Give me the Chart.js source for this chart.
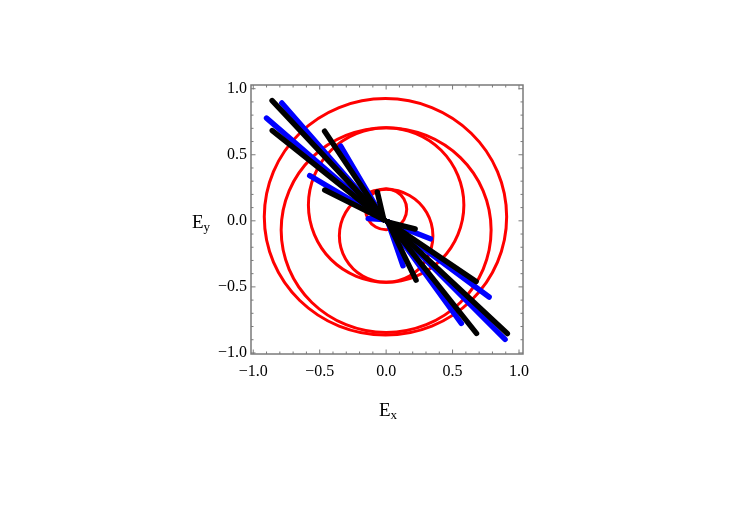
<!DOCTYPE html>
<html>
<head>
<meta charset="utf-8">
<script src="https://cdn.jsdelivr.net/npm/chart.js@4.4.0/dist/chart.umd.min.js"></script>
<style>
  html, body { margin: 0; padding: 0; background: #fff; }
  #wrap { position: relative; width: 747px; height: 528px; }
  #chart { position: absolute; left: 0; top: 0; }
  .axis-title {
    position: absolute;
    font-family: 'Liberation Serif', 'Times New Roman', serif;
    font-size: 19px;
    line-height: 1;
    color: #000;
    white-space: nowrap;
  }
  .axis-title sub { font-size: 13px; vertical-align: baseline; position: relative; top: 3px; }
</style>
</head>
<body>
<div id="wrap">
  <canvas id="chart" width="747" height="528"></canvas>
  <div class="axis-title" style="left:379px; top:400px;">E<sub>x</sub></div>
  <div class="axis-title" style="left:192px; top:212px;">E<sub>y</sub></div>
</div>
<script>
// axis ranges and ticks
const xRange = [-1.017, 1.03];
const yRange = [-1.008, 1.028];
const majorTicks = [-1, -0.5, 0, 0.5, 1];
const minorTicks = [-0.9, -0.8, -0.7, -0.6, -0.4, -0.3, -0.2, -0.1, 0.1, 0.2, 0.3, 0.4, 0.6, 0.7, 0.8, 0.9];

// red loops, going round once (closed when drawn)
const red1 = [[0.907, 0.030], [0.838, 0.373], [0.640, 0.663], [0.344, 0.857], [-0.005, 0.925], [-0.354, 0.857],
  [-0.650, 0.663], [-0.848, 0.373], [-0.917, 0.030], [-0.848, -0.313], [-0.650, -0.603], [-0.354, -0.797],
  [-0.005, -0.865], [0.344, -0.797], [0.640, -0.603], [0.838, -0.313]];
const red2 = [[0.790, -0.070], [0.730, 0.227], [0.559, 0.478], [0.302, 0.646], [0, 0.705], [-0.302, 0.646],
  [-0.559, 0.478], [-0.730, 0.227], [-0.790, -0.070], [-0.730, -0.367], [-0.559, -0.618], [-0.302, -0.786],
  [0, -0.845], [0.302, -0.786], [0.559, -0.618], [0.730, -0.367]];
const red3 = [[0.585, 0.120], [0.540, 0.344], [0.414, 0.534], [0.224, 0.660], [0, 0.705], [-0.224, 0.660],
  [-0.414, 0.534], [-0.540, 0.344], [-0.585, 0.120], [-0.540, -0.104], [-0.414, -0.294], [-0.224, -0.420],
  [0, -0.465], [0.224, -0.420], [0.414, -0.294], [0.540, -0.104]];
const red4 = [[0.352, -0.113], [0.305, 0.063], [0.176, 0.192], [0, 0.239], [-0.176, 0.192], [-0.305, 0.063],
  [-0.352, -0.113], [-0.305, -0.289], [-0.176, -0.418], [0, -0.465], [0.176, -0.418], [0.305, -0.289]];
const red5 = [[0.155, 0.087], [0.134, 0.165], [0.078, 0.221], [0, 0.242], [-0.078, 0.221], [-0.134, 0.165],
  [-0.155, 0.087], [-0.134, 0.009], [-0.078, -0.047], [0, -0.068], [0.078, -0.047], [0.134, 0.009]];

// thin lobes: each runs from the centre of its arm out to a tip
const upperBase = [-0.018, 0.010];
const lowerBase = [0.014, -0.010];
const blueTips = [[-0.785, 0.892], [-0.900, 0.777], [-0.342, 0.566], [-0.575, 0.342], [-0.135, 0.018],
  [0.895, -0.897], [0.775, -0.577], [0.566, -0.776], [0.333, -0.136], [0.127, -0.340]];
const blackTips = [[-0.858, 0.910], [-0.857, 0.683], [-0.463, 0.678], [-0.462, 0.233], [-0.066, 0.218],
  [0.912, -0.853], [0.677, -0.459], [0.680, -0.852], [0.225, -0.449], [0.218, -0.062]];

const serif = "'Liberation Serif', 'Times New Roman', serif";
const fmt = (v) => (v < 0 ? '\u2212' : '') + Math.abs(v).toFixed(1);

const lobe = (tip, color, order) => ({
  data: [tip[0] < 0 ? upperBase : lowerBase, tip],
  borderColor: color,
  borderWidth: 5.5,
  borderCapStyle: 'round',
  showLine: true,
  pointRadius: 0,
  order,
});

// a closed smooth loop: the spline is fed one point before and two after,
// and the two helper segments are left transparent
const loop = (pts) => {
  const n = pts.length;
  return {
    data: [pts[n - 1], ...pts, pts[0], pts[1]],
    borderColor: '#ff0000',
    borderWidth: 3,
    tension: 0.35,
    showLine: true,
    pointRadius: 0,
    order: 3,
    segment: {
      borderColor: (c) => (c.p0DataIndex === 0 || c.p0DataIndex === n + 1 ? 'rgba(0,0,0,0)' : '#ff0000'),
    },
  };
};

const datasets = [
  ...blackTips.map((t) => lobe(t, '#000000', 1)),
  ...blueTips.map((t) => lobe(t, '#0000ff', 2)),
  ...[red1, red2, red3, red4, red5].map(loop),
];

const framePlugin = {
  id: 'frame',
  afterDatasetsDraw(chart) {
    const { ctx, chartArea: a, scales: { x, y } } = chart;
    ctx.save();
    ctx.strokeStyle = '#7a7a7a';
    ctx.lineWidth = 1.5;
    ctx.strokeRect(a.left, a.top, a.right - a.left, a.bottom - a.top);
    ctx.lineWidth = 1;
    ctx.beginPath();
    const mark = (v, len) => {
      const px = x.getPixelForValue(v);
      ctx.moveTo(px, a.bottom); ctx.lineTo(px, a.bottom - len);
      ctx.moveTo(px, a.top); ctx.lineTo(px, a.top + len);
      const py = y.getPixelForValue(v);
      ctx.moveTo(a.left, py); ctx.lineTo(a.left + len, py);
      ctx.moveTo(a.right, py); ctx.lineTo(a.right - len, py);
    };
    majorTicks.forEach((v) => mark(v, 4.5));
    minorTicks.forEach((v) => mark(v, 2.5));
    ctx.stroke();
    ctx.restore();
  },
};

const axis = (range, fit, pad) => ({
  type: 'linear',
  min: range[0],
  max: range[1],
  grid: { display: false, drawTicks: false },
  border: { display: false },
  afterBuildTicks: (s) => { s.ticks = majorTicks.map((v) => ({ value: v })); },
  afterFit: fit,
  ticks: {
    callback: fmt,
    font: { family: serif, size: 16 },
    color: '#000',
    padding: pad,
    autoSkip: false,
    maxRotation: 0,
  },
});

new Chart(document.getElementById('chart'), {
  type: 'scatter',
  data: { datasets },
  options: {
    responsive: false,
    animation: false,
    devicePixelRatio: 1,
    layout: { padding: { left: 0, top: 85, right: 224, bottom: 144 } },
    plugins: { legend: { display: false }, tooltip: { enabled: false } },
    scales: {
      x: axis(xRange, (s) => { s.height = 30; }, 8),
      y: axis(yRange, (s) => { s.width = 251; }, 4),
    },
  },
  plugins: [framePlugin],
});
</script>
</body>
</html>
